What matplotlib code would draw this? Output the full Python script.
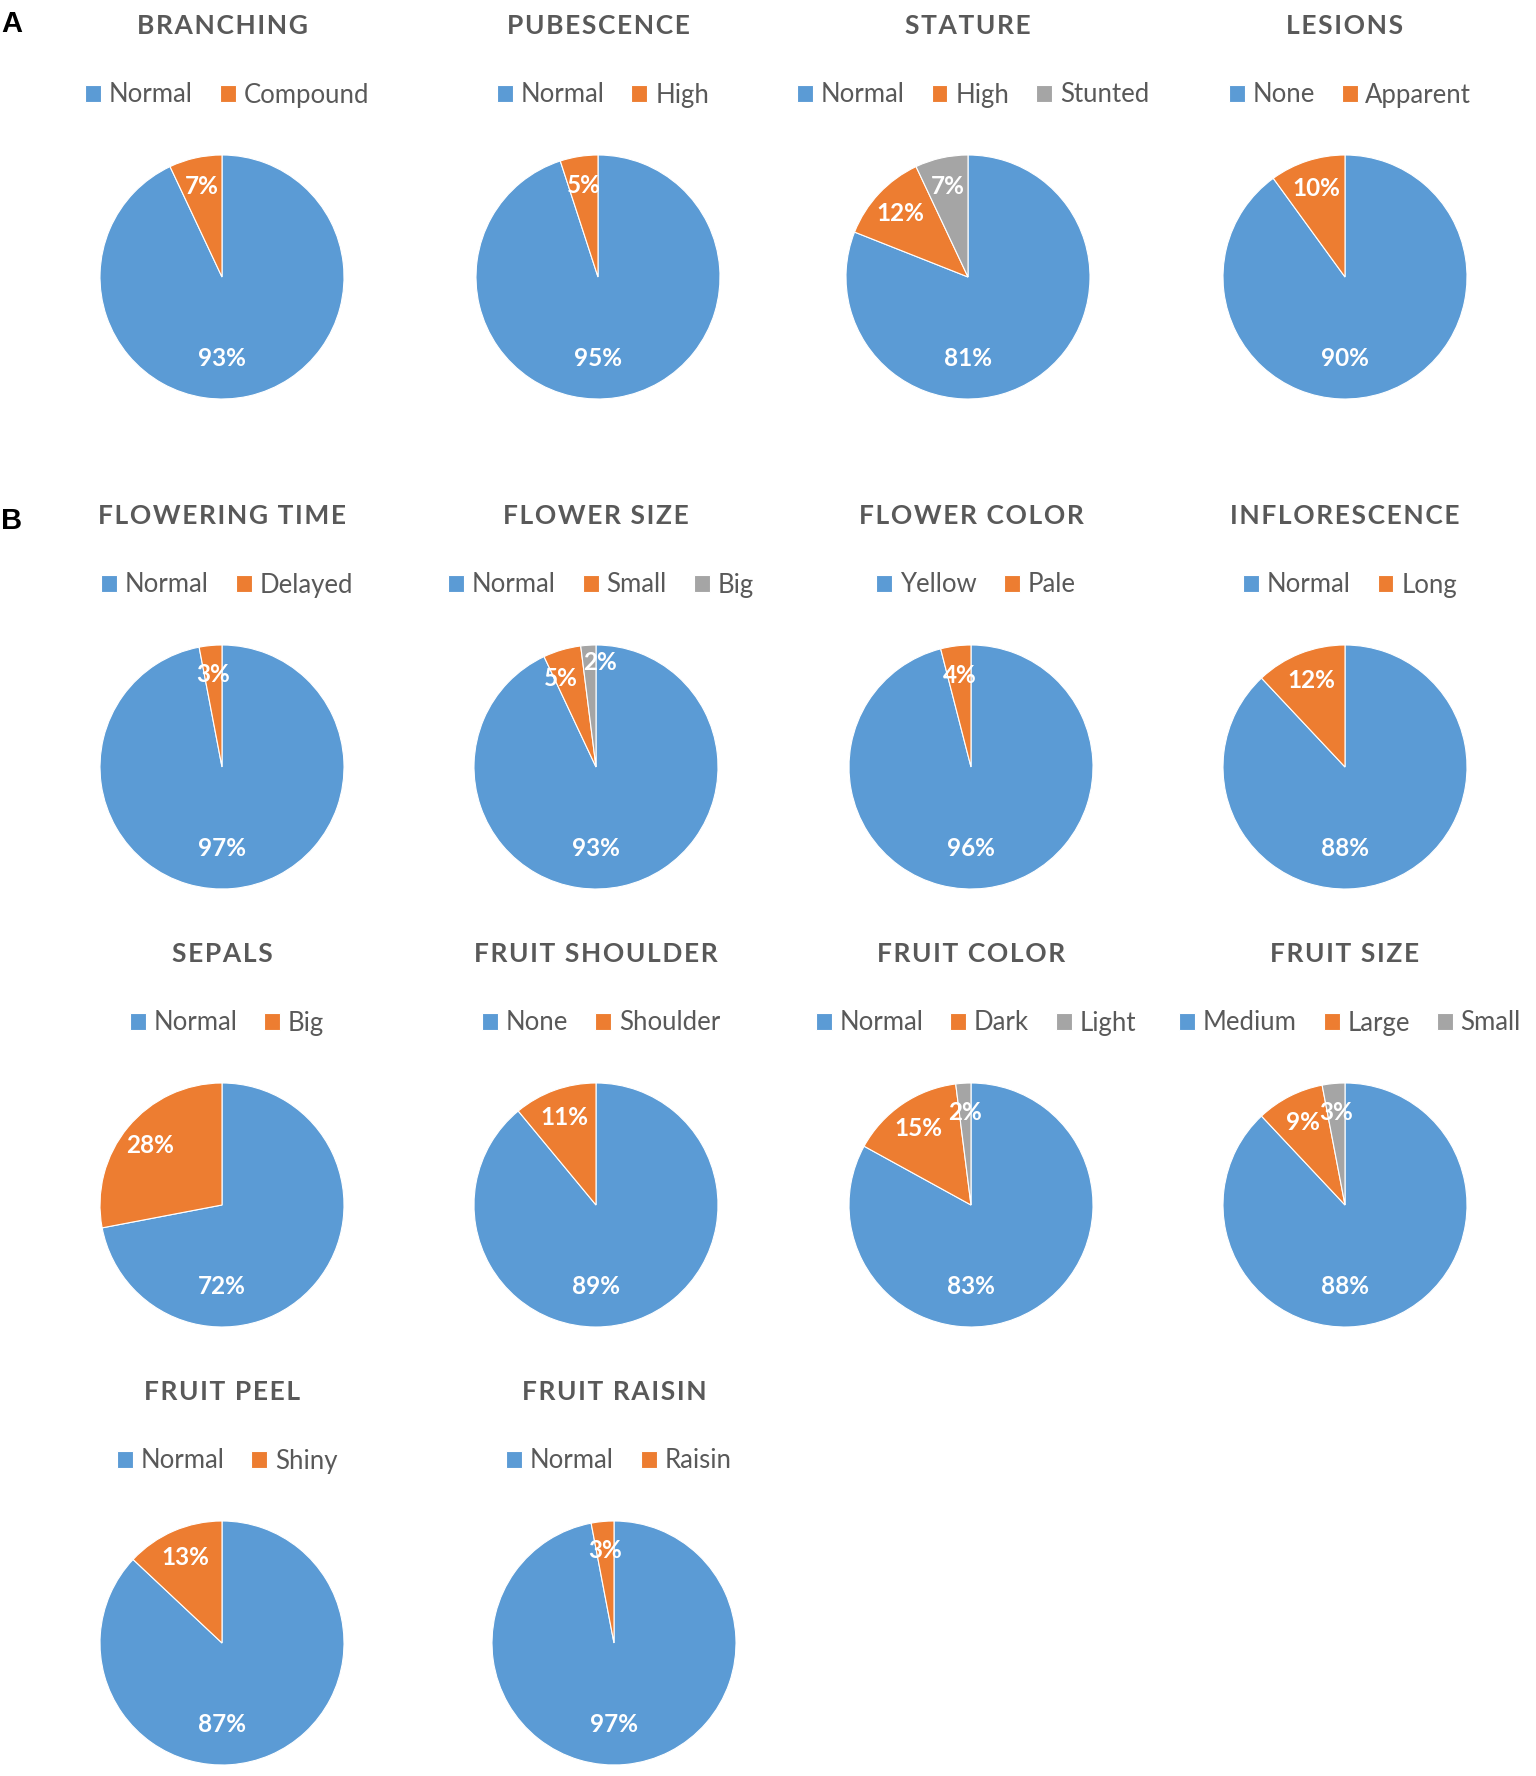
import matplotlib.pyplot as plt
import numpy as np

W, H = 1536, 1776

# chart data
titles = ['BRANCHING', 'PUBESCENCE', 'STATURE', 'LESIONS',
          'FLOWERING TIME', 'FLOWER SIZE', 'FLOWER COLOR', 'INFLORESCENCE',
          'SEPALS', 'FRUIT SHOULDER', 'FRUIT COLOR', 'FRUIT SIZE',
          'FRUIT PEEL', 'FRUIT RAISIN']
categories = [['Normal', 'Compound'], ['Normal', 'High'], ['Normal', 'High', 'Stunted'],
              ['None', 'Apparent'],
              ['Normal', 'Delayed'], ['Normal', 'Small', 'Big'], ['Yellow', 'Pale'],
              ['Normal', 'Long'],
              ['Normal', 'Big'], ['None', 'Shoulder'], ['Normal', 'Dark', 'Light'],
              ['Medium', 'Large', 'Small'],
              ['Normal', 'Shiny'], ['Normal', 'Raisin']]
percents = [[93, 7], [95, 5], [81, 12, 7], [90, 10],
            [97, 3], [93, 5, 2], [96, 4], [88, 12],
            [72, 28], [89, 11], [83, 15, 2], [88, 9, 3],
            [87, 13], [97, 3]]

colors = ['#5B9BD5', '#ED7D31', '#A5A5A5']
gray = '#595959'

# layout (pixels)
col_x = [[222, 598, 968, 1345], [222, 596, 971, 1345], [222, 596, 971, 1345], [222, 614]]
row_y = [277, 767, 1205, 1643]
R = 122
MIN_SEP = 20  # degrees between small-slice labels

plt.rcParams['font.family'] = ['Lato', 'DejaVu Sans']
fig = plt.figure(figsize=(W / 100, H / 100), dpi=100)

k = 0
for r, xs in enumerate(col_x):
    cy = row_y[r]
    for cx in xs:
        vals = percents[k]
        ax = fig.add_axes([(cx - R) / W, 1 - (cy + R) / H, 2 * R / W, 2 * R / H])
        wedges, _ = ax.pie(vals, colors=colors[:len(vals)], startangle=90,
                           counterclock=False, radius=1,
                           wedgeprops=dict(edgecolor='white', linewidth=0.8))
        ax.set_xlim(-1, 1)
        ax.set_ylim(-1, 1)
        ax.set_aspect('equal')

        # bisector angles of the small slices (clockwise, so decreasing)
        start = 90.0
        mids = []
        for v in vals:
            span = v / sum(vals) * 360
            mids.append(start - span / 2)
            start -= span
        small = mids[1:]
        dist = [0.76] * len(small)
        if len(small) == 2 and small[0] - small[1] < MIN_SEP:
            c = (small[0] + small[1]) / 2
            small = [c + 12, c - 12]
            dist = [0.78, 0.86]

        ax.text(0, -0.67, f'{vals[0]}%', ha='center', va='center', color='white',
                fontsize=17.5, fontweight='bold')
        for v, a, d in zip(vals[1:], small, dist):
            a = np.deg2rad(a)
            ax.text(d * np.cos(a), d * np.sin(a), f'{v}%', ha='center',
                    va='center', color='white', fontsize=17.5, fontweight='bold')

        fig.text(cx / W, 1 - (cy - 251) / H, '\u200a'.join(titles[k]), ha='center',
                 va='center', fontsize=19, fontweight='bold', color=gray)
        ax.legend(wedges, categories[k], loc='center', ncol=len(vals),
                  bbox_to_anchor=((cx + 5) / W, 1 - (cy - 182) / H),
                  bbox_transform=fig.transFigure, frameon=False, fontsize=18.5,
                  labelcolor=gray, handlelength=0.62, handleheight=0.62,
                  handletextpad=0.3, columnspacing=1.05, borderpad=0)
        k += 1

fig.text(1 / W, 1 - 24 / H, 'A', ha='left', va='center', fontsize=21,
         fontweight='bold', family='Liberation Sans')
fig.text(1 / W, 1 - 521 / H, 'B', ha='left', va='center', fontsize=21,
         fontweight='bold', family='Liberation Sans')

fig.savefig('out.png', dpi=100)
